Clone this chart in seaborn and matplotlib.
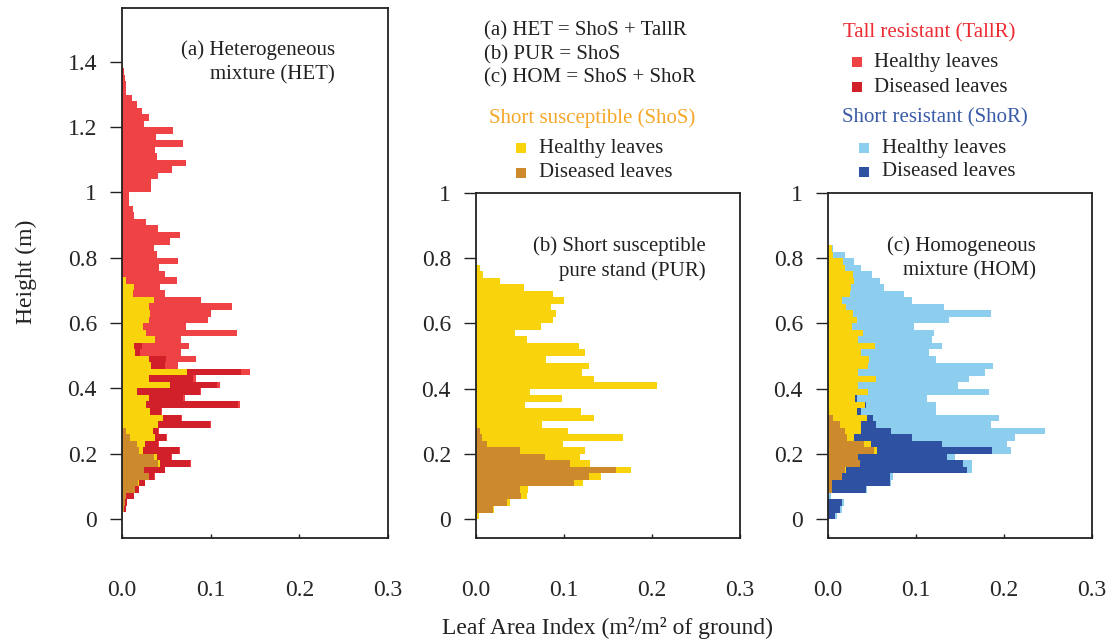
import numpy as np
import pandas as pd
import seaborn as sns
import matplotlib
matplotlib.use("Agg")
import matplotlib.pyplot as plt
from matplotlib.patches import Rectangle

# --- data: leaf area index per 0.02 m height layer (lower edge of the layer) ---
bin_w = 0.02

# (a) heterogeneous mixture: ShoS + TallR, layers 0.00 .. 1.36
het_shos_dis = [0.001, 0.002, 0.003, 0.005, 0.015, 0.018, 0.030, 0.025, 0.041, 0.036,
                0.019, 0.017, 0.009, 0.004] + [0] * 55
het_shos_hea = [0, 0, 0, 0, 0, 0.001, 0.001, 0, 0.002, 0.004,
                0.005, 0.009, 0.028, 0.031, 0.041, 0.046, 0.032, 0.027, 0.030, 0.017,
                0.054, 0.031, 0.073, 0.033, 0.030, 0.015, 0.013, 0.037, 0.027, 0.024,
                0.031, 0.032, 0.030, 0.036, 0.012, 0.014, 0.004] + [0] * 32
het_tall_dis = [0, 0.002, 0.003, 0.008, 0.004, 0.007, 0.005, 0.023, 0.034, 0.015,
                0.040, 0.015, 0.013, 0.006, 0.058, 0.021, 0.012, 0.104, 0.039, 0.071,
                0.053, 0.049, 0.061, 0.015, 0.020, 0.005, 0.009] + [0] * 42
het_tall_hea = [0, 0, 0, 0, 0, 0, 0.001, 0.001, 0.001, 0.001,
                0.001, 0.001, 0.001, 0.001, 0.001, 0.001, 0.001, 0.002, 0.002, 0.001,
                0.003, 0.003, 0.010, 0.015, 0.033, 0.046, 0.054, 0.029, 0.103, 0.048,
                0.066, 0.068, 0.094, 0.053, 0.037, 0.029, 0.058, 0.049, 0.042, 0.063,
                0.039, 0.036, 0.054, 0.065, 0.041, 0.027, 0.013, 0.012, 0.008, 0.008,
                0.033, 0.033, 0.041, 0.056, 0.072, 0.039, 0.037, 0.069, 0.038, 0.057,
                0.025, 0.030, 0.022, 0.017, 0.011, 0.005, 0.005, 0.003, 0.002]

# (b) pure stand of ShoS, layers 0.00 .. 0.76
pur_shos_dis = [0.001, 0.019, 0.035, 0.051, 0.050, 0.111, 0.128, 0.159, 0.107, 0.078,
                0.050, 0.013, 0.007, 0.004] + [0] * 25
pur_shos_hea = [0.002, 0.001, 0.004, 0.007, 0.009, 0.011, 0.014, 0.017, 0.023, 0.040,
                0.074, 0.086, 0.160, 0.101, 0.075, 0.134, 0.119, 0.056, 0.098, 0.061,
                0.206, 0.134, 0.121, 0.128, 0.080, 0.124, 0.117, 0.058, 0.044, 0.074,
                0.088, 0.091, 0.085, 0.100, 0.088, 0.054, 0.027, 0.008, 0.004]

# (c) homogeneous mixture: ShoS + ShoR, layers 0.00 .. 0.82
hom_shos_dis = [0, 0, 0, 0, 0.004, 0.005, 0.016, 0.019, 0.036, 0.034,
                0.052, 0.041, 0.022, 0.019, 0.014, 0.006] + [0] * 26
hom_shos_hea = [0, 0, 0, 0, 0, 0, 0, 0.002, 0, 0,
                0.004, 0.008, 0.008, 0.019, 0.024, 0.038, 0.033, 0.042, 0.031, 0.045,
                0.034, 0.054, 0.034, 0.045, 0.047, 0.038, 0.053, 0.034, 0.040, 0.027,
                0.033, 0.028, 0.020, 0.016, 0.025, 0.026, 0.030, 0.028, 0.019, 0.017,
                0.006, 0.004]
hom_shor_dis = [0.008, 0.014, 0.016, 0, 0.039, 0.065, 0.055, 0.137, 0.117, 0.101,
                0.130, 0.081, 0.066, 0.034, 0.017, 0.007, 0.004, 0.001, 0.002] + [0] * 23
hom_shor_hea = [0.002, 0.002, 0.002, 0.003, 0.001, 0.002, 0.003, 0.006, 0.011, 0.009,
                0.022, 0.073, 0.117, 0.175, 0.130, 0.143, 0.086, 0.080, 0.079, 0.138,
                0.114, 0.106, 0.144, 0.143, 0.076, 0.077, 0.076, 0.084, 0.080, 0.071,
                0.104, 0.157, 0.112, 0.079, 0.061, 0.038, 0.029, 0.022, 0.018, 0.013,
                0.013, 0.002]

colors = {
    "ShoS healthy": "#F9D30C",
    "ShoS diseased": "#CD8A2C",
    "TallR healthy": "#EE4244",
    "TallR diseased": "#D1202A",
    "ShoR healthy": "#8DCDEE",
    "ShoR diseased": "#2E51A2",
}

W, H = 1114, 644


def px(x, y):
    return x / W, 1 - y / H


def long_df(layers):
    rows = []
    for name, vals in layers.items():
        heights = np.arange(len(vals)) * bin_w + bin_w / 2
        rows.append(pd.DataFrame({"height": heights, "lai": vals, "layer": name}))
    return pd.concat(rows, ignore_index=True)


def draw_panel(ax, layers, order, ytop, yticks):
    df = long_df(layers)
    n = max(len(v) for v in layers.values())
    # seaborn stacks the last hue level at the bottom
    sns.histplot(data=df, y="height", weights="lai", hue="layer", hue_order=order,
                 palette=colors, multiple="stack", binwidth=bin_w,
                 binrange=(0, n * bin_w), linewidth=0,
                 alpha=1, legend=False, ax=ax)
    ax.set_xlim(0, 0.3)
    ax.set_ylim(-0.0582, ytop)
    ax.set_xlabel("")
    ax.set_ylabel("")
    ax.set_xticks([0, 0.1, 0.2, 0.3])
    ax.set_xticklabels(["0.0", "0.1", "0.2", "0.3"])
    ax.set_yticks(yticks)
    ax.set_yticklabels([f"{t:g}" for t in yticks])
    ax.tick_params(axis="y", left=True, direction="out", length=9, width=1,
                   color="#222222", pad=9, labelsize=17)
    ax.tick_params(axis="x", bottom=True, direction="in", length=3, width=1,
                   color="#222222", pad=30, labelsize=17)
    for s in ax.spines.values():
        s.set_visible(True)
        s.set_color("#222222")
        s.set_linewidth(1.3)


sns.set_style("white")
plt.rcParams["font.family"] = ["Liberation Serif", "DejaVu Serif"]

fig = plt.figure(figsize=(W / 100, H / 100), dpi=100)
ax_a = fig.add_axes([122 / W, 106 / H, 266 / W, 530 / H])
ax_b = fig.add_axes([476 / W, 106 / H, 264 / W, 345 / H])
ax_c = fig.add_axes([828 / W, 106 / H, 264 / W, 345 / H])

draw_panel(ax_a, {"TallR healthy": het_tall_hea, "TallR diseased": het_tall_dis,
                  "ShoS healthy": het_shos_hea, "ShoS diseased": het_shos_dis},
           ["TallR healthy", "TallR diseased", "ShoS healthy", "ShoS diseased"],
           1.565, [0, 0.2, 0.4, 0.6, 0.8, 1, 1.2, 1.4])
draw_panel(ax_b, {"ShoS healthy": pur_shos_hea, "ShoS diseased": pur_shos_dis},
           ["ShoS healthy", "ShoS diseased"],
           1.0, [0, 0.2, 0.4, 0.6, 0.8, 1])
draw_panel(ax_c, {"ShoR healthy": hom_shor_hea, "ShoR diseased": hom_shor_dis,
                  "ShoS healthy": hom_shos_hea, "ShoS diseased": hom_shos_dis},
           ["ShoR healthy", "ShoR diseased", "ShoS healthy", "ShoS diseased"],
           1.0, [0, 0.2, 0.4, 0.6, 0.8, 1])

fs = 15
txt = "#222222"

# panel titles
for x, y1, y2, l1, l2 in [(335, 50, 75, "(a) Heterogeneous", "mixture (HET)"),
                          (706, 246, 271, "(b) Short susceptible", "pure stand (PUR)"),
                          (1036, 246, 271, "(c) Homogeneous", "mixture (HOM)")]:
    fig.text(*px(x, y1), l1, ha="right", va="center", fontsize=fs, color=txt)
    fig.text(*px(x, y2), l2, ha="right", va="center", fontsize=fs, color=txt)

# legend block
fig.text(*px(484, 31), "(a) HET = ShoS + TallR", va="center", fontsize=fs, color=txt)
fig.text(*px(484, 55), "(b) PUR = ShoS", va="center", fontsize=fs, color=txt)
fig.text(*px(484, 78), "(c) HOM = ShoS + ShoR", va="center", fontsize=fs, color=txt)

fig.text(*px(489, 118), "Short susceptible (ShoS)", va="center", fontsize=fs, color="#F6A729")
fig.text(*px(843, 33), "Tall resistant (TallR)", va="center", fontsize=fs, color="#EE2C34")
fig.text(*px(842, 118), "Short resistant (ShoR)", va="center", fontsize=fs, color="#3A5BA6")

sq = 10
for cx, cy, tx, key, label in [(521, 148, 539, "ShoS healthy", "Healthy leaves"),
                               (521, 173, 539, "ShoS diseased", "Diseased leaves"),
                               (857, 62, 874, "TallR healthy", "Healthy leaves"),
                               (857, 87, 874, "TallR diseased", "Diseased leaves"),
                               (864, 148, 882, "ShoR healthy", "Healthy leaves"),
                               (864, 172, 882, "ShoR diseased", "Diseased leaves")]:
    x0, y0 = px(cx - sq / 2, cy + sq / 2)
    fig.add_artist(Rectangle((x0, y0), sq / W, sq / H, transform=fig.transFigure,
                             facecolor=colors[key], edgecolor="none"))
    fig.text(*px(tx, cy), label, va="center", fontsize=fs, color=txt)

# axis labels
fig.text(*px(26, 272), "Height (m)", rotation=90, ha="center", va="center", fontsize=17, color=txt)
fig.text(*px(608, 628), "Leaf Area Index (m²/m² of ground)", ha="center", va="center",
         fontsize=17, color=txt)

fig.savefig("out.png", dpi=100)
